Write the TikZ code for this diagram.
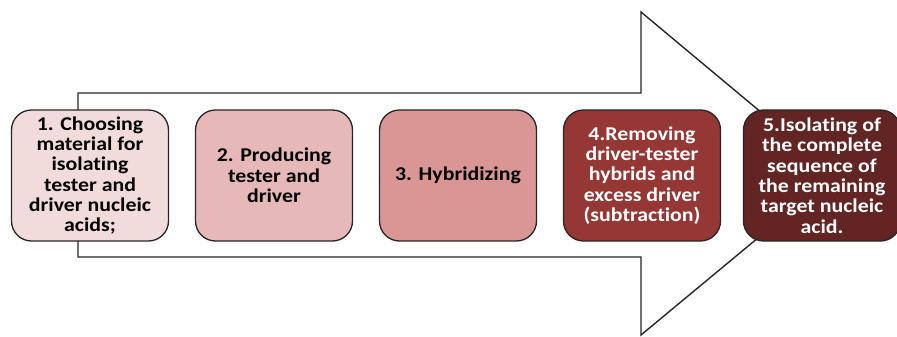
\documentclass[tikz,border=0pt]{standalone}
\usepackage{fontspec}
\setmainfont{Carlito}[Ligatures=NoCommon, FakeStretch=1.12]
\definecolor{c1}{HTML}{F2DCDB}
\definecolor{c2}{HTML}{E6B8B7}
\definecolor{c3}{HTML}{D99694}
\definecolor{c4}{HTML}{953735}
\definecolor{c5}{HTML}{632523}
\begin{document}
\begin{tikzpicture}[x=1pt,y=-1pt,
  stepbox/.style={draw=black!85, line width=1.3pt, rounded corners=20pt,
    minimum width=157pt, minimum height=131pt, align=center,
    font=\fontsize{19.5}{20.3}\selectfont\bfseries, inner sep=1pt}]
\useasboundingbox (0,0) rectangle (897,337);
\fill[white] (0,0) rectangle (897,337);
\draw[line width=1.4pt, draw=black!85, fill=white]
  (78,93) -- (641,93) -- (641,12) -- (835,174) -- (641,335) -- (641,257) -- (78,257) -- cycle;
\node[stepbox, fill=c1, text=black] (s1) at (90,175.5)
  {1. Choosing\\material for\\isolating\\tester and\\driver nucleic\\acids;};
\node[stepbox, fill=c2, text=black] (s2) at (274,175.5)
  {2. Producing\\tester and\\driver};
\node[stepbox, fill=c3, text=black] (s3) at (458,175.5)
  {3. Hybridizing};
\node[stepbox, fill=c4, text=white] (s4) at (642,175.5)
  {4.Removing\\driver-tester\\hybrids and\\excess driver\\(subtraction)};
\node[stepbox, fill=c5, text=white] (s5) at (822,175.5)
  {5.Isolating of\\the complete\\sequence of\\the remaining\\target nucleic\\acid.};
\end{tikzpicture}
\end{document}
